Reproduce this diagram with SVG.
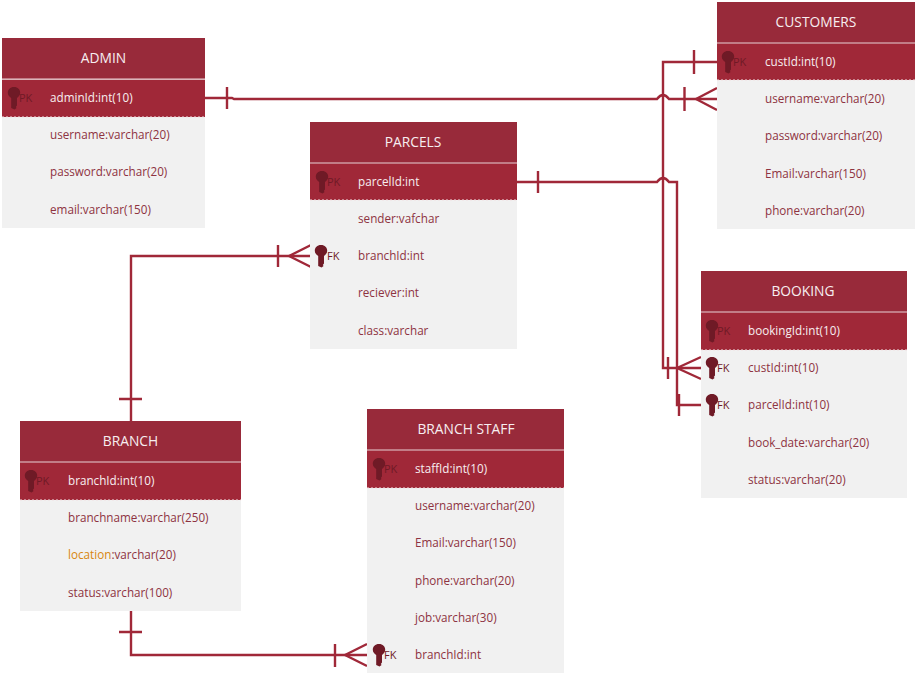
<svg xmlns="http://www.w3.org/2000/svg" xmlns:xlink="http://www.w3.org/1999/xlink" width="916" height="675" viewBox="0 0 916 675">
<style>
text{font-family:"Open Sans","Noto Sans","Liberation Sans",sans-serif;font-size:11.7px;dominant-baseline:central}
.bg{fill:#f1f1f1}
.hd{fill:#982a3a}
.sep{stroke:#cf9aa2;stroke-width:1.5}
.row{fill:#a02838}
.dash{stroke:#f1dfe1;stroke-width:1;stroke-dasharray:2 2}
.t{font-size:13.8px;fill:#f7eef0;text-anchor:middle}
.w{fill:#f7eef0}
.f{fill:#8e3341}
.o{fill:#d8860f}
.k{fill:#6f1a26;font-size:11px}
.c{fill:none;stroke:#a02838;stroke-width:2.4}
.key{fill:#6f1a26}
</style>
<defs>
<path id="key" d="M0-11C3.900-11 6.200-8.300 6.200-5.300C6.200-2.800 4.600-1.300 3 0V7.500L1.800 9 2.600 10 .5 11.500-2.800 10V0C-4.600-1.300-6.200-2.800-6.200-5.300C-6.200-8.300-3.900-11 0-11Z" class="key"/>
</defs>
<g id="connectors" class="c">
<path d="M205 98H232L234 99H657Q663 91 669 99H717"/>
<path d="M227 87V109M684.500 87V111M696 99L717 88M696 99L717 110"/>
<path d="M717 62H663V368H701"/>
<path d="M694 50V74M668 357V379M677 368L701 357M677 368L701 379"/>
<path d="M517 182H657Q663 174 669 182H677V405H701"/>
<path d="M538 171V193M679 394V416"/>
<path d="M131 421V256H310"/>
<path d="M119 399H142M278 245V267M289 256L311 245M289 256L311 267"/>
<path d="M131 611V655H367"/>
<path d="M119 632H142M335 644V667M345 655L367 644M345 655L367 666"/>
</g>
<g id="admin">
<rect class="bg" x="2" y="117" width="203" height="111"/>
<rect class="hd" x="2" y="38" width="203" height="41"/>
<rect class="row" x="2" y="80" width="203" height="37"/>
<path class="sep" d="M2 79H205"/><path class="dash" d="M2 117H205"/>
<text class="t" x="103.500" y="57">ADMIN</text>
<use xlink:href="#key" href="#key" x="14" y="98"/><text class="k" x="19" y="97">PK</text>
<text class="w" x="50" y="97">adminId:int(10)</text>
<text class="f" x="50" y="134">username:varchar(20)</text>
<text class="f" x="50" y="171">password:varchar(20)</text>
<text class="f" x="50" y="209">email:varchar(150)</text>
</g>
<g id="customers">
<rect class="bg" x="717" y="80" width="198" height="149"/>
<rect class="hd" x="717" y="2" width="198" height="41"/>
<rect class="row" x="717" y="43" width="198" height="37"/>
<path class="sep" d="M717 43H915"/><path class="dash" d="M717 80H915"/>
<text class="t" x="816" y="21">CUSTOMERS</text>
<use xlink:href="#key" href="#key" x="728" y="62"/><text class="k" x="733" y="61">PK</text>
<text class="w" x="765" y="61">custId:int(10)</text>
<text class="f" x="765" y="98">username:varchar(20)</text>
<text class="f" x="765" y="135">password:varchar(20)</text>
<text class="f" x="765" y="173">Email:varchar(150)</text>
<text class="f" x="765" y="210">phone:varchar(20)</text>
</g>
<g id="parcels">
<rect class="bg" x="310" y="200" width="207" height="149"/>
<rect class="hd" x="310" y="122" width="207" height="41"/>
<rect class="row" x="310" y="163" width="207" height="37"/>
<path class="sep" d="M310 163H517"/><path class="dash" d="M310 200H517"/>
<text class="t" x="413" y="141">PARCELS</text>
<use xlink:href="#key" href="#key" x="322" y="182"/><text class="k" x="327" y="181">PK</text>
<text class="w" x="358" y="181">parcelId:int</text>
<text class="f" x="358" y="218">sender:vafchar</text>
<use xlink:href="#key" href="#key" x="321" y="256"/><text class="k" x="327" y="255">FK</text>
<text class="f" x="358" y="255">branchId:int</text>
<text class="f" x="358" y="292">reciever:int</text>
<text class="f" x="358" y="330">class:varchar</text>
</g>
<g id="booking">
<rect class="bg" x="701" y="350" width="206" height="148"/>
<rect class="hd" x="701" y="271" width="206" height="41"/>
<rect class="row" x="701" y="312" width="206" height="38"/>
<path class="sep" d="M701 312H907"/><path class="dash" d="M701 350H907"/>
<text class="t" x="803" y="290">BOOKING</text>
<use xlink:href="#key" href="#key" x="712" y="331"/><text class="k" x="717" y="330">PK</text>
<text class="w" x="748" y="330">bookingId:int(10)</text>
<use xlink:href="#key" href="#key" x="712" y="368"/><text class="k" x="717" y="367">FK</text>
<text class="f" x="748" y="367">custId:int(10)</text>
<use xlink:href="#key" href="#key" x="712" y="405"/><text class="k" x="717" y="404">FK</text>
<text class="f" x="748" y="404">parcelId:int(10)</text>
<text class="f" x="748" y="442">book_date:varchar(20)</text>
<text class="f" x="748" y="479">status:varchar(20)</text>
</g>
<g id="branch">
<rect class="bg" x="20" y="500" width="221" height="111"/>
<rect class="hd" x="20" y="421" width="221" height="41"/>
<rect class="row" x="20" y="462" width="221" height="38"/>
<path class="sep" d="M20 462H241"/><path class="dash" d="M20 500H241"/>
<text class="t" x="130.500" y="440">BRANCH</text>
<use xlink:href="#key" href="#key" x="31" y="481"/><text class="k" x="36" y="480">PK</text>
<text class="w" x="68" y="480">branchId:int(10)</text>
<text class="f" x="68" y="517">branchname:varchar(250)</text>
<text x="68" y="554"><tspan class="o">location</tspan><tspan class="f">:varchar(20)</tspan></text>
<text class="f" x="68" y="592">status:varchar(100)</text>
</g>
<g id="branch-staff">
<rect class="bg" x="367" y="488" width="197" height="185"/>
<rect class="hd" x="367" y="409" width="197" height="41"/>
<rect class="row" x="367" y="450" width="197" height="38"/>
<path class="sep" d="M367 450H564"/><path class="dash" d="M367 488H564"/>
<text class="t" x="466" y="428">BRANCH STAFF</text>
<use xlink:href="#key" href="#key" x="379" y="469"/><text class="k" x="384" y="468">PK</text>
<text class="w" x="415" y="468">staffId:int(10)</text>
<text class="f" x="415" y="505">username:varchar(20)</text>
<text class="f" x="415" y="542">Email:varchar(150)</text>
<text class="f" x="415" y="580">phone:varchar(20)</text>
<text class="f" x="415" y="617">job:varchar(30)</text>
<use xlink:href="#key" href="#key" x="379" y="655"/><text class="k" x="384" y="654">FK</text>
<text class="f" x="415" y="654">branchId:int</text>
</g>
</svg>
